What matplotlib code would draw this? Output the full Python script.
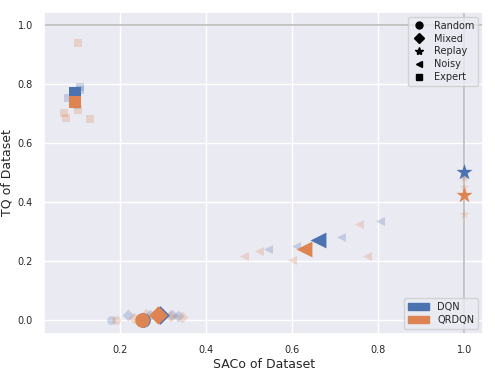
import matplotlib
matplotlib.use("Agg")
import matplotlib.pyplot as plt
import seaborn as sns
from matplotlib.lines import Line2D
from matplotlib.patches import Patch

sns.set_theme(style="darkgrid")
plt.rcParams['font.family'] = ['DejaVu Sans']

algos = ["DQN", "QRDQN"]
colors = {"DQN": "#4C72B0", "QRDQN": "#DD8452"}
dataset_types = ["Random", "Mixed", "Replay", "Noisy", "Expert"]
markers = {"Random": "o", "Mixed": "D", "Replay": "*", "Noisy": "<", "Expert": "s"}

# mean points (SACo, TQ)
mean_saco = {
    "DQN":   {"Random": 0.252, "Mixed": 0.292, "Replay": 1.0, "Noisy": 0.66, "Expert": 0.095},
    "QRDQN": {"Random": 0.251, "Mixed": 0.288, "Replay": 1.0, "Noisy": 0.628, "Expert": 0.095},
}
mean_tq = {
    "DQN":   {"Random": 0.0, "Mixed": 0.018, "Replay": 0.502, "Noisy": 0.27, "Expert": 0.77},
    "QRDQN": {"Random": 0.0, "Mixed": 0.017, "Replay": 0.424, "Noisy": 0.24, "Expert": 0.74},
}
# individual runs (faint)
run_saco = {
    "DQN": {"Random": [0.179, 0.25], "Mixed": [0.219, 0.32, 0.335, 0.27],
            "Replay": [1.0, 1.0], "Noisy": [0.544, 0.61, 0.714, 0.805],
            "Expert": [0.107, 0.107, 0.079, 0.1]},
    "QRDQN": {"Random": [0.19, 0.25], "Mixed": [0.231, 0.259, 0.317, 0.344],
              "Replay": [1.0, 1.0, 1.0], "Noisy": [0.488, 0.523, 0.6, 0.756, 0.774],
              "Expert": [0.102, 0.07, 0.074, 0.102, 0.13]},
}
run_tq = {
    "DQN": {"Random": [0.0, 0.0], "Mixed": [0.017, 0.017, 0.015, 0.016],
            "Replay": [0.49, 0.5], "Noisy": [0.24, 0.25, 0.28, 0.336],
            "Expert": [0.79, 0.78, 0.753, 0.73]},
    "QRDQN": {"Random": [0.0, 0.0], "Mixed": [0.008, 0.02, 0.013, 0.01],
              "Replay": [0.48, 0.45, 0.36], "Noisy": [0.217, 0.234, 0.203, 0.325, 0.217],
              "Expert": [0.94, 0.70, 0.685, 0.71, 0.68]},
}

fig = plt.figure(figsize=(4.95, 3.71), dpi=100)
ax = fig.add_axes([0.089, 0.1, 0.887, 0.868])

ax.axhline(1.0, color="#bbbbbb", lw=1.2, zorder=1)
ax.axvline(1.0, color="#bbbbbb", lw=1.2, zorder=1)

main_size = {"o": 110, "D": 90, "*": 150, "<": 130, "s": 85}
run_size = {"o": 40, "D": 36, "*": 55, "<": 42, "s": 36}
for algo in algos:
    for dt in dataset_types:
        m = markers[dt]
        ax.scatter(run_saco[algo][dt], run_tq[algo][dt], marker=m, s=run_size[m],
                   color=colors[algo], alpha=0.25, linewidths=0, zorder=2)
for algo in algos:
    for dt in dataset_types:
        m = markers[dt]
        ax.scatter([mean_saco[algo][dt]], [mean_tq[algo][dt]], marker=m, s=main_size[m],
                   color=colors[algo], linewidths=0, zorder=3)

ax.set_xlim(0.023, 1.044)
ax.set_ylim(-0.047, 1.044)
ax.set_xticks([0.2, 0.4, 0.6, 0.8, 1.0])
ax.set_yticks([0.0, 0.2, 0.4, 0.6, 0.8, 1.0])
ax.tick_params(labelsize=7, pad=2)
ax.set_xlabel("SACo of Dataset", fontsize=9, labelpad=2)
ax.set_ylabel("TQ of Dataset", fontsize=9, labelpad=3)

h1 = [Line2D([], [], marker=markers[d], color="black", ls="", markersize=5 if d != "Replay" else 6)
      for d in dataset_types]
leg1 = ax.legend(h1, dataset_types, loc="upper right", fontsize=7, handlelength=1.5,
                 borderpad=0.4, labelspacing=0.3, handletextpad=0.8)
ax.add_artist(leg1)
h2 = [Patch(color=colors[a]) for a in algos]
ax.legend(h2, algos, loc="lower right", fontsize=7, handlelength=2.2, handleheight=0.7,
          borderpad=0.4, labelspacing=0.3)

fig.savefig("out.png", dpi=100)
